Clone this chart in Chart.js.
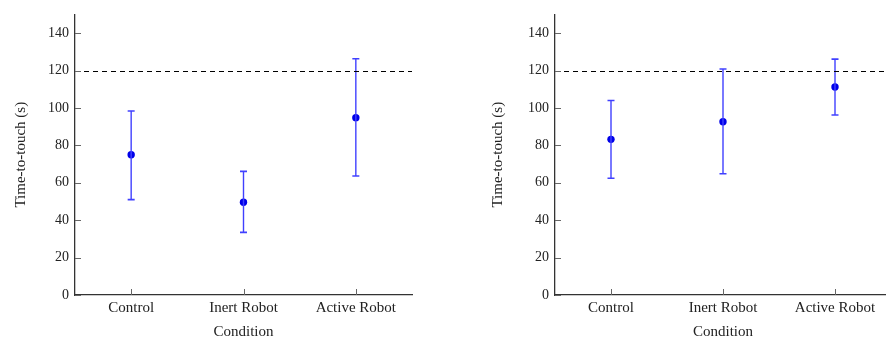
<!DOCTYPE html>
<html>
<head>
<meta charset="utf-8">
<script src="https://cdn.jsdelivr.net/npm/chart.js@4/dist/chart.umd.min.js"></script>
<style>
  html, body { margin: 0; padding: 0; background: #fff; overflow: hidden; }
  .panel { position: absolute; top: 0; height: 341px; }
</style>
</head>
<body>
<div class="panel" id="p1" style="left:0; width:443px;"><canvas id="c1"></canvas></div>
<div class="panel" id="p2" style="left:443px; width:460px;"><canvas id="c2"></canvas></div>
<script>
// data
const conditions = ['Control', 'Inert Robot', 'Active Robot'];
const yTicks = [0, 20, 40, 60, 80, 100, 120, 140];
const timeLimit = 120;

const meanA = [75, 49.6, 94.8];
const lowA  = [51, 33.5, 63.6];
const highA = [98.4, 66.1, 126.3];

const meanB = [83.2, 92.6, 111.2];
const lowB  = [62.4, 64.8, 96.2];
const highB = [104, 120.8, 126.1];

const SERIF = "'Liberation Serif', 'DejaVu Serif', serif";
const dotColor = '#0000e8';
const barColor = '#4040ff';

// inward tick marks + dashed time-limit line
const axisDeco = {
  id: 'axisDeco',
  afterDatasetsDraw(chart) {
    const ctx = chart.ctx;
    const x = chart.scales.x, y = chart.scales.y;
    const area = chart.chartArea;
    ctx.save();
    // dashed limit
    const ly = Math.round(y.getPixelForValue(timeLimit)) + 0.5;
    ctx.strokeStyle = '#000';
    ctx.lineWidth = 1;
    ctx.setLineDash([5, 4]);
    ctx.beginPath();
    ctx.moveTo(area.left, ly);
    ctx.lineTo(area.right, ly);
    ctx.stroke();
    ctx.setLineDash([]);
    // ticks
    ctx.strokeStyle = '#666';
    ctx.beginPath();
    yTicks.forEach(v => {
      const py = Math.round(y.getPixelForValue(v)) + 0.5;
      ctx.moveTo(area.left, py);
      ctx.lineTo(area.left + 6, py);
    });
    conditions.forEach((c, i) => {
      const px = Math.round(x.getPixelForValue(i)) + 0.5;
      ctx.moveTo(px, area.bottom);
      ctx.lineTo(px, area.bottom - 6);
    });
    ctx.stroke();
    ctx.restore();
  }
};

function makeChart(canvasId, means, lows, highs, yAxisWidth, titlePad, rightPad) {
  const datasets = [];
  conditions.forEach((c, i) => {
    datasets.push({
      data: [{x: c, y: lows[i]}, {x: c, y: highs[i]}],
      borderColor: barColor,
      borderWidth: 1.4,
      pointStyle: 'line',
      pointRadius: 3.5,
      pointBorderColor: barColor,
      pointBorderWidth: 1.6,
      pointHoverRadius: 3.5,
      showLine: true
    });
  });
  datasets.push({
    data: means.map((m, i) => ({x: conditions[i], y: m})),
    showLine: false,
    pointStyle: 'circle',
    pointRadius: 3.7,
    pointBackgroundColor: dotColor,
    pointBorderColor: dotColor,
    pointBorderWidth: 0
  });

  return new Chart(document.getElementById(canvasId), {
    type: 'line',
    data: { labels: conditions, datasets: datasets },
    options: {
      responsive: true,
      maintainAspectRatio: false,
      animation: false,
      events: [],
      layout: { padding: { top: 4, right: rightPad, left: 0, bottom: 0 } },
      plugins: { legend: { display: false }, tooltip: { enabled: false } },
      scales: {
        x: {
          type: 'category',
          offset: true,
          grid: { display: false, drawTicks: false },
          border: { display: true, color: '#333', width: 1.3 },
          ticks: { color: '#222', font: { family: SERIF, size: 15 }, padding: 4, maxRotation: 0 },
          title: { display: true, text: 'Condition', color: '#222',
                   font: { family: SERIF, size: 15 }, padding: { top: 0, bottom: 0 } },
          afterFit(scale) { scale.height = 46; }
        },
        y: {
          min: 0,
          max: 150,
          grid: { display: false, drawTicks: false },
          border: { display: true, color: '#333', width: 1.3 },
          afterBuildTicks(scale) { scale.ticks = yTicks.map(v => ({value: v})); },
          ticks: { color: '#222', font: { family: SERIF, size: 14 }, padding: 6 },
          title: { display: true, text: 'Time-to-touch (s)', color: '#222',
                   font: { family: SERIF, size: 15 }, padding: { top: titlePad, bottom: titlePad } },
          afterFit(scale) { scale.width = yAxisWidth; }
        }
      }
    },
    plugins: [axisDeco]
  });
}

makeChart('c1', meanA, lowA, highA, 75, 12, 31);
makeChart('c2', meanB, lowB, highB, 112, 46, 12);
</script>
</body>
</html>
